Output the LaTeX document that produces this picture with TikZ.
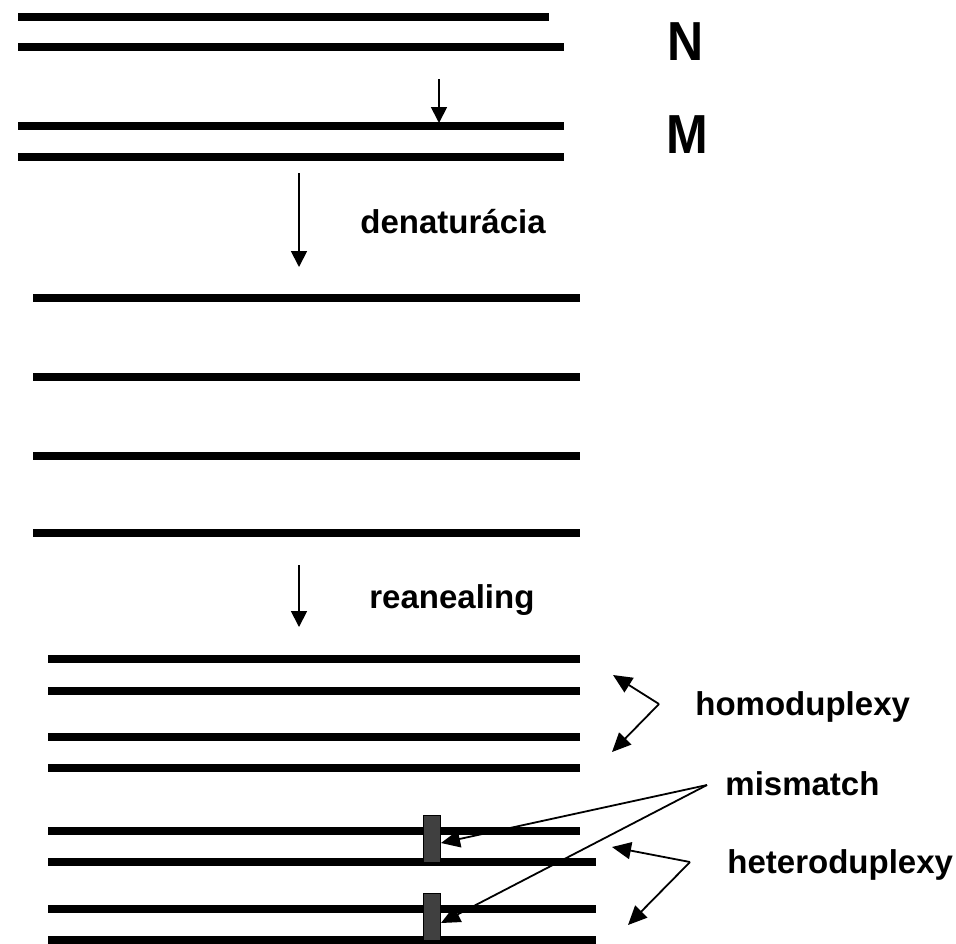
\documentclass[tikz,border=0pt]{standalone}
\usepackage{fontspec}
\setmainfont{Liberation Sans}
\usepackage{tikz}
\usetikzlibrary{arrows.meta,positioning}
\definecolor{mismatchgray}{RGB}{64,64,64}
\tikzset{
  strand/.style={line width=4pt},
  stepdown/.style={line width=0.9pt,-{Triangle[length=8pt,width=8pt]}},
  pointer/.style={line width=0.9pt,-{Triangle[length=9.5pt,width=8.5pt]}},
  tag/.style={anchor=base west,inner sep=0pt,font=\bfseries\fontsize{16.5}{20}\selectfont},
  bigtag/.style={anchor=base west,inner sep=0pt,font=\bfseries\fontsize{25}{30}\selectfont,yscale=1.1},
  mmbox/.style={draw=black,line width=0.5pt,fill=mismatchgray,minimum width=8.5pt,minimum height=23.5pt,inner sep=0pt}
}

\begin{document}
\begin{tikzpicture}[x=0.5pt,y=-0.5pt]
    \useasboundingbox (0,0) rectangle (956,943);

    % Starting duplexes N and M
    \draw[strand] (18,17) -- (549,17);
    \foreach \y in {47,126,157} {
        \draw[strand] (18,\y) -- (564,\y);
    }
    \node[bigtag] (n) at (667,60) {N};
    \node[bigtag] (m) at (666,153) {M};

    % Point mutation in M
    \coordinate (mutfrom) at (439,79);
    \coordinate (mutto) at (439,123);
    \draw[stepdown] (mutfrom) -- (mutto);

    % Denaturation
    \coordinate (denfrom) at (299,173);
    \coordinate (dento) at (299,267);
    \draw[stepdown] (denfrom) -- (dento);
    \node[tag] (den) at (360,233) {denaturácia};

    % Single strands
    \foreach \y in {298,377,456,533} {
        \draw[strand] (33,\y) -- (580,\y);
    }

    % Reannealing
    \coordinate (reafrom) at (299,565);
    \coordinate (reato) at (299,627);
    \draw[stepdown] (reafrom) -- (reato);
    \node[tag] (rea) at (369,608) {reanealing};

    % Homoduplexes and heteroduplexes
    \foreach \y in {659,691,737,768,831} {
        \draw[strand] (48,\y) -- (580,\y);
    }
    \foreach \y in {862,909,940} {
        \draw[strand] (48,\y) -- (596,\y);
    }

    % Mismatch sites
    \node[mmbox] (mm1) at (432,839) {};
    \node[mmbox] (mm2) at (432,917) {};

    % Labels with pointers
    \node[tag] (homo) at (695,715) {homoduplexy};
    \node[tag] (mis) at (725,795) {mismatch};
    \node[tag] (hetero) at (727,873) {heteroduplexy};

    \coordinate (homov) at (659,704);
    \coordinate (homoa) at (613,675);
    \coordinate (homob) at (612,752);
    \draw[pointer] (homov) -- (homoa);
    \draw[pointer] (homov) -- (homob);

    \coordinate (misv) at (707,785);
    \draw[pointer] (misv) -- ([yshift=-2pt]mm1.east);
    \draw[pointer] (misv) -- ([yshift=-3pt]mm2.east);

    \coordinate (heterov) at (690,862);
    \coordinate (heteroa) at (612,847);
    \coordinate (heterob) at (628,925);
    \draw[pointer] (heterov) -- (heteroa);
    \draw[pointer] (heterov) -- (heterob);

\end{tikzpicture}
\end{document}
